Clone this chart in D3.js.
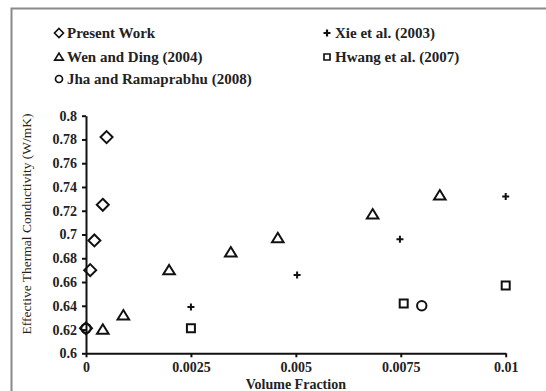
<!DOCTYPE html>
<html>
<head>
<meta charset="utf-8">
<script src="https://cdn.jsdelivr.net/npm/d3@7"></script>
<style>
  body { margin: 0; background: #fff; }
  svg { display: block; }
</style>
</head>
<body>
<div id="chart"></div>
<script>
// data (volume fraction, W/mK)
const presentX = [0, 0.0001, 0.0002, 0.0004, 0.00049];
const presentY = [0.621, 0.670, 0.695, 0.725, 0.782];
const xieX = [0.0025, 0.00503, 0.00748, 0.01];
const xieY = [0.639, 0.666, 0.696, 0.732];
const wenX = [0.0004, 0.00089, 0.00198, 0.00345, 0.00457, 0.00683, 0.00843];
const wenY = [0.620, 0.632, 0.670, 0.685, 0.697, 0.717, 0.733];
const hwangX = [0.0025, 0.00757, 0.01];
const hwangY = [0.621, 0.642, 0.657];
const jhaX = [0, 0.008];
const jhaY = [0.621, 0.640];

const xTicks = [0, 0.0025, 0.005, 0.0075, 0.01];
const xTickLabels = ["0", "0.0025", "0.005", "0.0075", "0.01"];
const yTicks = [0.6, 0.62, 0.64, 0.66, 0.68, 0.7, 0.72, 0.74, 0.76, 0.78, 0.8];
const yTickLabels = ["0.6", "0.62", "0.64", "0.66", "0.68", "0.7", "0.72", "0.74", "0.76", "0.78", "0.8"];

const W = 546, H = 391;
const serif = "'Liberation Serif', 'Times New Roman', serif";

var svg = d3.select("#chart").append("svg")
  .attr("width", W).attr("height", H);

// grey frame of the original figure
svg.append("path")
  .attr("d", "M11.5," + H + " L11.5,8.5 L" + W + ",8.5")
  .attr("fill", "none").attr("stroke", "#8a8a8a").attr("stroke-width", 2);

var x = d3.scaleLinear().domain([0, 0.01]).range([86, 505.7]);
var y = d3.scaleLinear().domain([0.6, 0.8]).range([353.3, 115.7]);

// marker shapes
function diamond(r) { return "M0," + (-r) + "L" + r + ",0L0," + r + "L" + (-r) + ",0Z"; }
function triangle(r) { return "M0," + (-r * 0.95) + "L" + (r * 1.05) + "," + (r * 0.75) + "L" + (-r * 1.05) + "," + (r * 0.75) + "Z"; }
function square(r) { return "M" + (-r) + "," + (-r) + "h" + (2 * r) + "v" + (2 * r) + "h" + (-2 * r) + "Z"; }
function circle(r) { return d3.arc()({innerRadius: 0, outerRadius: r, startAngle: 0, endAngle: 2 * Math.PI}); }
function plus(r) { return "M" + (-r) + ",0H" + r + "M0," + (-r) + "V" + r; }

const series = [
  {name: "Present Work", xs: presentX, ys: presentY, shape: () => diamond(6)},
  {name: "Xie et al. (2003)", xs: xieX, ys: xieY, shape: () => plus(3.5)},
  {name: "Wen and Ding (2004)", xs: wenX, ys: wenY, shape: () => triangle(5.5)},
  {name: "Hwang et al. (2007)", xs: hwangX, ys: hwangY, shape: () => square(4)},
  {name: "Jha and Ramaprabhu (2008)", xs: jhaX, ys: jhaY, shape: () => circle(4.7)}
];

// axes
var xAxis = svg.append("g")
  .attr("transform", "translate(0," + y(0.6) + ")")
  .call(d3.axisBottom(x).tickValues(xTicks).tickFormat((d, i) => xTickLabels[i])
    .tickSizeInner(4).tickSizeOuter(0).tickPadding(5));
var yAxis = svg.append("g")
  .attr("transform", "translate(" + x(0) + ",0)")
  .call(d3.axisLeft(y).tickValues(yTicks).tickFormat((d, i) => yTickLabels[i])
    .tickSizeInner(4).tickSizeOuter(0).tickPadding(5));

[xAxis, yAxis].forEach(function(g) {
  g.select(".domain").attr("stroke", "#111").attr("stroke-width", 2);
  g.selectAll(".tick line").attr("stroke", "#111").attr("stroke-width", 2);
  g.selectAll(".tick text")
    .style("font-family", serif).style("font-size", "14px")
    .style("font-weight", "bold").attr("fill", "#222");
});

// axis titles
svg.append("text")
  .attr("transform", "translate(31," + 224 + ") rotate(-90)")
  .attr("text-anchor", "middle")
  .style("font-family", serif).style("font-size", "13.5px")
  .attr("fill", "#222")
  .text("Effective Thermal Conductivity (W/mK)");

svg.append("text")
  .attr("x", (x(0) + x(0.01)) / 2).attr("y", 389)
  .attr("text-anchor", "middle")
  .style("font-family", serif).style("font-size", "14px")
  .style("font-weight", "bold").attr("fill", "#222")
  .text("Volume Fraction");

// points
series.forEach(function(s) {
  svg.selectAll(null)
    .data(s.xs.map((v, i) => [v, s.ys[i]]))
    .enter().append("path")
    .attr("transform", d => "translate(" + x(d[0]) + "," + y(d[1]) + ")")
    .attr("d", s.shape())
    .attr("fill", "none").attr("stroke", "#111").attr("stroke-width", 2);
});

// legend
const legendPos = [[59, 33], [327, 33], [59, 57], [327, 57], [59, 79]];
series.forEach(function(s, i) {
  var g = svg.append("g").attr("transform", "translate(" + legendPos[i][0] + "," + legendPos[i][1] + ")");
  g.append("path").attr("d", s.shape())
    .attr("transform", i === 1 ? "" : "scale(0.75)")
    .attr("fill", "none").attr("stroke", "#111").attr("stroke-width", 2.2);
  g.append("text")
    .attr("x", 8).attr("y", 5)
    .style("font-family", serif).style("font-size", "15px")
    .style("font-weight", "bold").attr("fill", "#222")
    .text(s.name);
});
</script>
</body>
</html>
